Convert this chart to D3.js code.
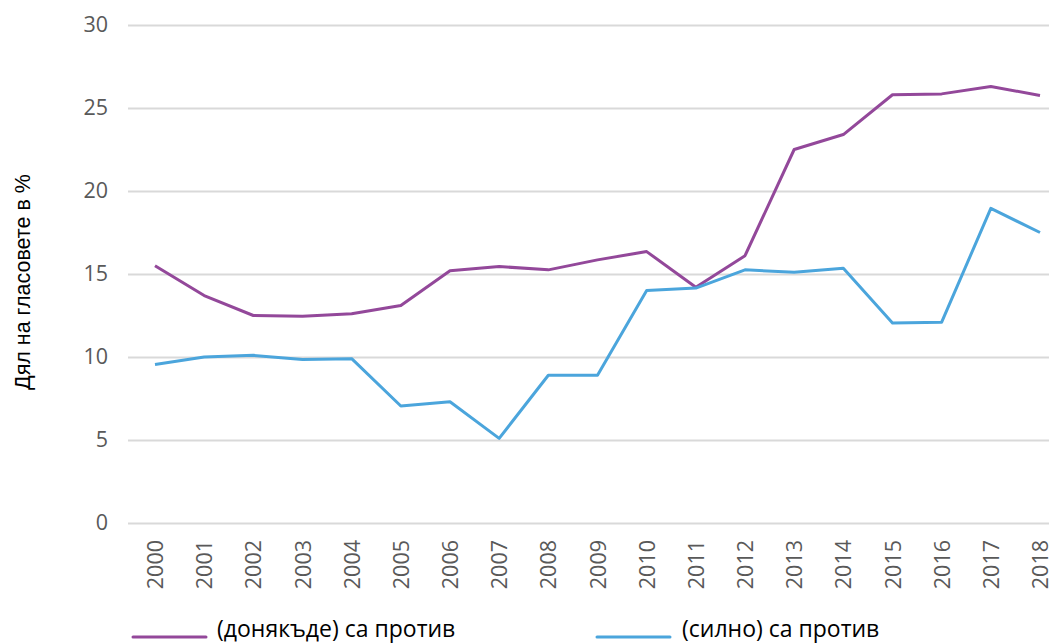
<!DOCTYPE html>
<html>
<head>
<meta charset="utf-8">
<script src="https://cdn.jsdelivr.net/npm/d3@7"></script>
<style>
  body { margin: 0; background: #fff; }
  svg { display: block; }
</style>
</head>
<body>
<div id="chart"></div>
<script>
// Data
var years = ["2000", "2001", "2002", "2003", "2004", "2005", "2006", "2007", "2008", "2009",
             "2010", "2011", "2012", "2013", "2014", "2015", "2016", "2017", "2018"];
var somewhatAgainst = [15.5, 13.7, 12.5, 12.45, 12.6, 13.1, 15.2, 15.45, 15.25, 15.85,
                       16.35, 14.2, 16.1, 22.5, 23.4, 25.8, 25.85, 26.3, 25.75];
var stronglyAgainst = [9.55, 10.0, 10.1, 9.85, 9.9, 7.05, 7.3, 5.1, 8.9, 8.9,
                       14.0, 14.15, 15.25, 15.1, 15.35, 12.05, 12.1, 18.95, 17.5];
var yTicks = [0, 5, 10, 15, 20, 25, 30];
var seriesNames = ["(донякъде) са против", "(силно) са против"];

var colors = ["#93489a", "#4ba5dc"];

// Dimensions
var width = 1049, height = 643;
var plot = {left: 128, right: 1049, top: 25, bottom: 523};

var svg = d3.select("#chart").append("svg")
    .attr("width", width)
    .attr("height", height);

// Scales
var x = d3.scalePoint()
    .domain(years)
    .range([155, 1040]);

var y = d3.scaleLinear()
    .domain([0, 30])
    .range([plot.bottom, plot.top]);

// Grid lines + y labels
var yAxis = svg.append("g")
    .attr("transform", "translate(" + plot.left + ",0)")
    .call(d3.axisLeft(y).tickValues(yTicks).tickSize(-(plot.right - plot.left)).tickPadding(20));

yAxis.select(".domain").remove();
yAxis.selectAll(".tick line")
    .attr("stroke", "#d9d9d9")
    .attr("stroke-width", 2);
yAxis.selectAll(".tick text")
    .attr("fill", "#595959")
    .attr("font-family", "Open Sans, sans-serif")
    .attr("font-size", 21.5);

// x labels
var xAxis = svg.append("g")
    .attr("transform", "translate(0," + plot.bottom + ")")
    .call(d3.axisBottom(x).tickSize(0));

xAxis.select(".domain").remove();
xAxis.selectAll(".tick text")
    .attr("fill", "#595959")
    .attr("font-family", "Open Sans, sans-serif")
    .attr("font-size", 21.5)
    .attr("text-anchor", "end")
    .attr("transform", "rotate(-90)")
    .attr("x", -17)
    .attr("y", 0)
    .attr("dy", "0.35em");

// Axis title
svg.append("text")
    .attr("transform", "translate(30,282) rotate(-90)")
    .attr("text-anchor", "middle")
    .attr("font-family", "Liberation Sans, Arial, sans-serif")
    .attr("font-size", 21.5)
    .attr("fill", "#000")
    .text("Дял на гласовете в %");

// Lines
var line = d3.line()
    .x(function(d, i) { return x(years[i]); })
    .y(function(d) { return y(d); });

[somewhatAgainst, stronglyAgainst].forEach(function(s, i) {
    svg.append("path")
        .datum(s)
        .attr("fill", "none")
        .attr("stroke", colors[i])
        .attr("stroke-width", 3)
        .attr("stroke-linejoin", "round")
        .attr("d", line);
});

// Legend
var legendX = [133, 597];
var legend = svg.append("g")
    .selectAll("g")
    .data(seriesNames)
    .enter().append("g")
    .attr("transform", function(d, i) { return "translate(" + legendX[i] + ",637)"; });

legend.append("line")
    .attr("x1", 0)
    .attr("x2", 73)
    .attr("stroke", function(d, i) { return colors[i]; })
    .attr("stroke-width", 3)
    .attr("stroke-linecap", "round");

legend.append("text")
    .attr("x", function(d, i) { return i === 0 ? 84 : 85; })
    .attr("y", -8)
    .attr("dy", "0.35em")
    .attr("font-family", "Open Sans, sans-serif")
    .attr("font-size", 23)
    .attr("fill", "#000")
    .text(function(d) { return d; });
</script>
</body>
</html>
